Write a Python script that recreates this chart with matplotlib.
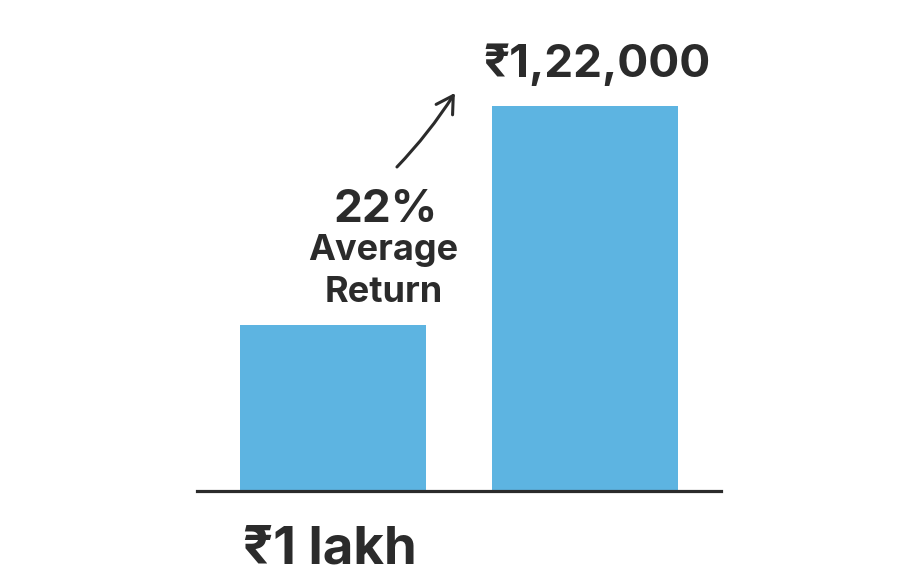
import matplotlib
matplotlib.use('Agg')
from matplotlib import pyplot as plt

plt.rcParams['font.family'] = ['Inter', 'Noto Sans', 'DejaVu Sans']

CATEGORIES = ['Start', 'End']
VALUES = [100000, 122000]
VALUE_LABELS = ['₹1 lakh', '₹1,22,000']
RETURN_PCT = 22

BAR_COLOR = '#5db4e1'
INK = '#2b2b2b'

fig = plt.figure(figsize=(9.16, 5.86), dpi=100)
ax = fig.add_axes([0.215, 0.162, 0.572, 0.804])

x = list(range(len(CATEGORIES)))
ax.bar(x, VALUES, width=0.74, color=BAR_COLOR, zorder=2)

# axis is cut off well above zero so the growth reads big
ax.set_xlim(-0.54, 1.54)
ax.set_ylim(83330, 130620)

for s in ['top', 'right', 'left']:
    ax.spines[s].set_visible(False)
ax.spines['bottom'].set_color(INK)
ax.spines['bottom'].set_linewidth(2.3)
ax.spines['bottom'].set_zorder(3)
ax.set_xticks([])
ax.set_yticks([])

# end value above the tall bar
ax.annotate(VALUE_LABELS[1], xy=(x[1], VALUES[1]), xytext=(9, 21),
            textcoords='offset points', ha='center', va='baseline',
            fontsize=33, fontweight='bold', color=INK)

# start value below the baseline
ax.annotate(VALUE_LABELS[0], xy=(x[0], 83330), xytext=(-2, -52),
            textcoords='offset points', ha='center', va='baseline',
            fontsize=38, fontweight='bold', color=INK)

# return note between the bars
ax.text(0.21, 110340, f'{RETURN_PCT}%', ha='center', va='baseline',
        fontsize=33, fontweight='bold', color=INK)
ax.text(0.20, 106520, 'Average', ha='center', va='baseline',
        fontsize=26, fontweight='bold', color=INK)
ax.text(0.20, 102310, 'Return', ha='center', va='baseline',
        fontsize=26, fontweight='bold', color=INK)

ax.annotate('', xy=(0.484, 123290), xytext=(0.254, 115860),
            arrowprops=dict(arrowstyle='->,head_length=0.6,head_width=0.35',
                            color=INK, lw=2.2, mutation_scale=20,
                            connectionstyle='arc3,rad=0.05',
                            shrinkA=0, shrinkB=0))

fig.savefig('out.png', dpi=100, facecolor='white')
